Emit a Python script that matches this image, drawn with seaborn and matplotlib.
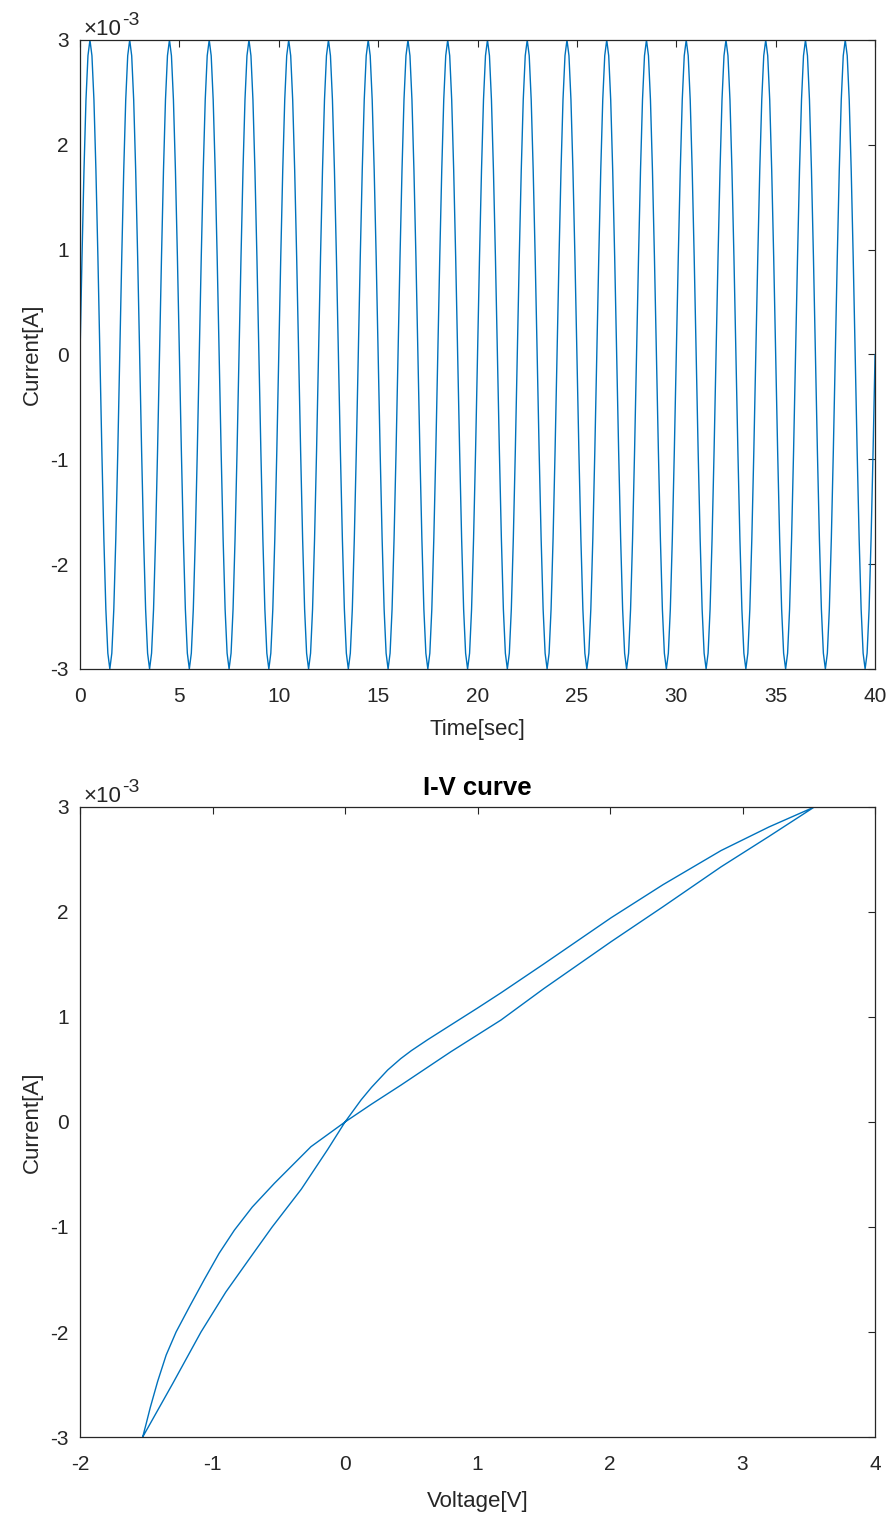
import numpy as np
import pandas as pd
import matplotlib
matplotlib.use("Agg")
import matplotlib.pyplot as plt
import matplotlib.ticker as mticker
import seaborn as sns

# ---------------- data ----------------
# one period of the current waveform, sampled every 0.1 s, in mA
cycle_current_mA = [0.00, 0.93, 1.76, 2.43, 2.85, 3.00, 2.85, 2.43, 1.76, 0.93,
                    0.00, -0.93, -1.76, -2.43, -2.85, -3.00, -2.85, -2.43, -1.76, -0.93]
sample_step_s = 0.1
n_cycles = 20

# I-V loop: rising branch (I from -3 mA to +3 mA)
rise_V = [-1.527, -1.30, -1.087, -0.90, -0.72, -0.55, -0.33, -0.13, 0.0,
          0.121, 0.20, 0.322, 0.42, 0.50, 0.624, 0.80, 0.90, 1.00, 1.177, 1.50,
          2.008, 2.40, 2.838, 3.20, 3.542]
rise_I_mA = [-3.00, -2.49, -2.00, -1.62, -1.30, -1.00, -0.64, -0.26, 0.0,
             0.21, 0.33, 0.495, 0.603, 0.679, 0.784, 0.925, 1.005, 1.085, 1.23, 1.505,
             1.945, 2.26, 2.585, 2.81, 3.00]
# falling branch (I from +3 mA to -3 mA)
fall_V = [3.542, 3.20, 2.838, 2.40, 2.008, 1.50, 1.177, 0.80, 0.725, 0.423, 0.20, 0.0,
          -0.257, -0.533, -0.70, -0.835, -0.95, -1.062, -1.17, -1.275, -1.35,
          -1.414, -1.47, -1.50, -1.527]
fall_I_mA = [3.00, 2.72, 2.43, 2.05, 1.717, 1.27, 0.971, 0.67, 0.607, 0.352, 0.17, 0.0,
             -0.235, -0.584, -0.81, -1.03, -1.25, -1.50, -1.75, -2.00, -2.22,
             -2.47, -2.72, -2.87, -3.00]

x_ticks_time = [0, 5, 10, 15, 20, 25, 30, 35, 40]
x_ticks_volt = [-2, -1, 0, 1, 2, 3, 4]
y_ticks = [-3e-3, -2e-3, -1e-3, 0, 1e-3, 2e-3, 3e-3]

# ---------------- assemble ----------------
current = np.array(cycle_current_mA * n_cycles + [cycle_current_mA[0]]) * 1e-3
time = np.arange(len(current)) * sample_step_s
df_t = pd.DataFrame({"t": time, "I": current})

df_iv = pd.DataFrame({"V": rise_V + fall_V,
                      "I": (np.array(rise_I_mA + fall_I_mA) * 1e-3)})

# ---------------- style ----------------
sns.set_style("white")
plt.rcParams["font.family"] = ["Liberation Sans", "DejaVu Sans"]
plt.rcParams["axes.unicode_minus"] = False
axis_col = "#262626"
line_col = "#0072BD"

fig = plt.figure(figsize=(8.92, 15.2), dpi=100)
ax1 = fig.add_axes([0.0897, 0.5599, 0.8913, 0.4138])
ax2 = fig.add_axes([0.0897, 0.0546, 0.8913, 0.4145])

sns.lineplot(data=df_t, x="t", y="I", ax=ax1, color=line_col, lw=1.0,
             estimator=None, sort=False)
sns.lineplot(data=df_iv, x="V", y="I", ax=ax2, color=line_col, lw=1.0,
             estimator=None, sort=False)

def style(ax, xticks, xlim):
    ax.set_xlim(*xlim)
    ax.set_ylim(-3e-3, 3e-3)
    ax.set_xticks(xticks)
    ax.set_yticks(y_ticks)
    ax.yaxis.set_major_formatter(mticker.FuncFormatter(lambda v, p: f"{v * 1e3:g}"))
    ax.tick_params(direction="in", length=5, width=0.8, colors=axis_col,
                   labelsize=15, top=True, right=True)
    ax.tick_params(axis="x", pad=13)
    ax.tick_params(axis="y", pad=8)
    for s in ax.spines.values():
        s.set_color(axis_col)
        s.set_linewidth(0.9)
        s.set_visible(True)
    # MATLAB-style exponent label
    ax.annotate("\u00d710", xy=(0, 1), xycoords="axes fraction", xytext=(2.2, 3.6),
                textcoords="offset points", fontsize=16, color=axis_col,
                ha="left", va="baseline")
    ax.annotate("-3", xy=(0, 1), xycoords="axes fraction", xytext=(30.5, 10.8),
                textcoords="offset points", fontsize=14, color=axis_col,
                ha="left", va="baseline")

style(ax1, x_ticks_time, (0, 40))
style(ax2, x_ticks_volt, (-2, 4))

ax1.set_xlabel("Time[sec]", fontsize=16, color=axis_col)
ax1.set_ylabel("Current[A]", fontsize=16, color=axis_col)
ax2.set_xlabel("Voltage[V]", fontsize=16, color=axis_col)
ax2.set_ylabel("Current[A]", fontsize=16, color=axis_col)
ax1.xaxis.set_label_coords(0.5, -0.0795)
ax2.xaxis.set_label_coords(0.5, -0.085)
ax1.yaxis.set_label_coords(-0.0465, 0.5)
ax2.yaxis.set_label_coords(-0.0465, 0.5)
ax2.set_title("I-V curve", fontsize=18.5, fontweight="bold", color="black", pad=8.6)

fig.savefig("out.png", dpi=100, facecolor="white")
